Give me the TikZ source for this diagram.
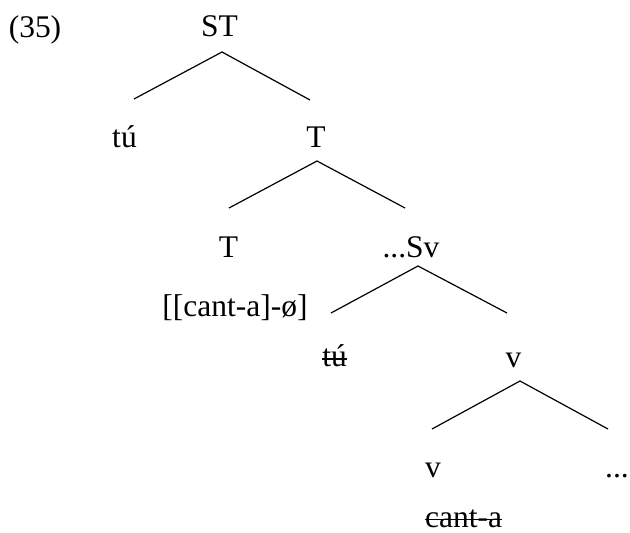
\documentclass[tikz,border=0pt]{standalone}
\usepackage{fontspec}
\setmainfont{Liberation Serif}
\begin{document}
\begin{tikzpicture}[x=1pt,y=-1pt,
  lab/.style={anchor=base, inner sep=0pt, font=\fontsize{31.5}{36}\selectfont},
  branch/.style={line width=1.2pt},
  strike/.style={line width=1.6pt}]
\useasboundingbox (0,0) rectangle (630,533);
% labels
\node[lab] (ex) at (35,37) {(35)};
\node[lab] (st) at (219.5,36) {ST};
\node[lab] (tu1) at (124.5,147) {tú};
\node[lab] (t1) at (316,147) {T};
\node[lab] (t2) at (228.5,257) {T};
\node[lab] (sv) at (411,257) {...Sv};
\node[lab] (cant1) at (235,316) {[[cant-a]-ø]};
\node[lab] (tu2) at (334.5,366) {tú};
\node[lab] (v1) at (513.5,367) {v};
\node[lab] (v2) at (433,477) {v};
\node[lab] (dots) at (617,477) {...};
\node[lab] (cant2) at (463.5,527) {cant-a};
% strike-throughs
\draw[strike] ([yshift=7pt]tu2.base west) -- ([yshift=7pt]tu2.base east);
\draw[strike] ([yshift=7.5pt]cant2.base west) -- ([yshift=7.5pt]cant2.base east);
% branch points
\coordinate (st-a) at (222,52);
\coordinate (st-l) at (134,99);
\coordinate (st-r) at (310,100);
\coordinate (t-a) at (317,161);
\coordinate (t-l) at (229,208);
\coordinate (t-r) at (405,208);
\coordinate (sv-a) at (418,266);
\coordinate (sv-l) at (331,313);
\coordinate (sv-r) at (507,313);
\coordinate (v-a) at (520,381);
\coordinate (v-l) at (432,429);
\coordinate (v-r) at (608,429);
\draw[branch] (st-l) -- (st-a) -- (st-r);
\draw[branch] (t-l) -- (t-a) -- (t-r);
\draw[branch] (sv-l) -- (sv-a) -- (sv-r);
\draw[branch] (v-l) -- (v-a) -- (v-r);
\end{tikzpicture}
\end{document}
